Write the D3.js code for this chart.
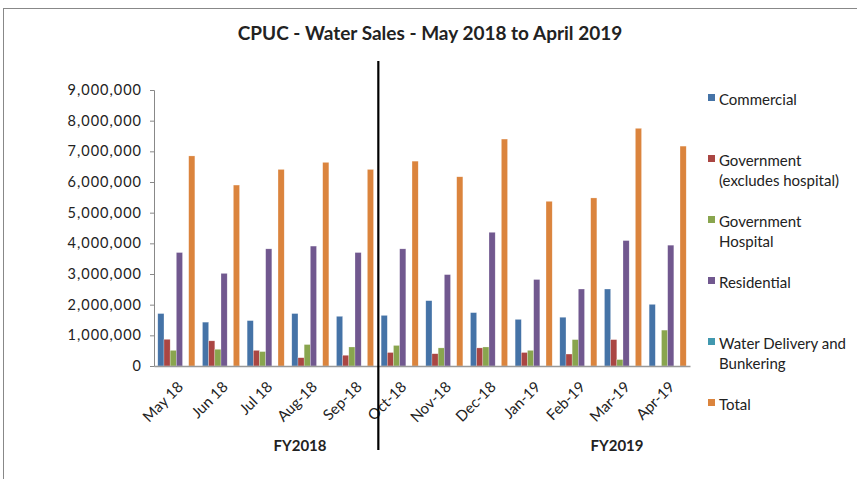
<!DOCTYPE html>
<html>
<head>
<meta charset="utf-8">
<script src="https://cdn.jsdelivr.net/npm/d3@7"></script>
<style>
  body { margin: 0; background: #fff; }
  text { font-family: Lato, "Open Sans", sans-serif; fill: #222; }
</style>
</head>
<body>
<div id="chart"></div>
<script>
// data
const months = ["May 18", "Jun 18", "Jul 18", "Aug-18", "Sep-18", "Oct-18",
    "Nov-18", "Dec-18", "Jan-19", "Feb-19", "Mar-19", "Apr-19"];

const commercial   = [1710000, 1430000, 1480000, 1710000, 1620000, 1650000, 2130000, 1740000, 1520000, 1590000, 2510000, 2010000];
const government   = [870000, 820000, 510000, 270000, 350000, 440000, 400000, 590000, 440000, 390000, 860000, 0];
const govHospital  = [510000, 545000, 470000, 700000, 620000, 670000, 590000, 620000, 510000, 860000, 210000, 1170000];
const residential  = [3700000, 3020000, 3820000, 3910000, 3700000, 3820000, 2980000, 4360000, 2820000, 2510000, 4090000, 3940000];
const waterDelivery = [0, 0, 0, 0, 0, 0, 0, 0, 0, 0, 0, 0];
const total        = [6850000, 5900000, 6410000, 6640000, 6410000, 6680000, 6170000, 7400000, 5370000, 5480000, 7750000, 7170000];

const seriesNames = ["Commercial", "Government (excludes hospital)", "Government Hospital",
    "Residential", "Water Delivery and Bunkering", "Total"];
const legendLines = [["Commercial"], ["Government", "(excludes hospital)"], ["Government", "Hospital"],
    ["Residential"], ["Water Delivery and", "Bunkering"], ["Total"]];
const colors = ["#4573a7", "#aa4643", "#89a54e", "#71588f", "#4198af", "#db843d"];
const yTicks = [0, 1000000, 2000000, 3000000, 4000000, 5000000, 6000000, 7000000, 8000000, 9000000];
const fyLabels = ["FY2018", "FY2019"];

const seriesValues = [commercial, government, govHospital, residential, waterDelivery, total];

const width = 857, height = 479,
    margin = ({ top: 90, right: 167, bottom: 113, left: 154 });

const svg = d3.select("#chart")
    .append("svg")
    .attr("width", width)
    .attr("height", height);

// chart border
svg.append("rect")
    .attr("x", 3.5).attr("y", 8.5)
    .attr("width", width + 10).attr("height", height + 10)
    .attr("fill", "none")
    .attr("stroke", "#888");

svg.append("text")
    .attr("x", 430)
    .attr("y", 40)
    .attr("text-anchor", "middle")
    .attr("font-size", 19)
    .attr("font-weight", "bold")
    .text("CPUC - Water Sales - May 2018 to April 2019");

let x0 = d3.scaleBand()
    .domain(months)
    .range([margin.left, width - margin.right])
    .paddingInner(0.17)
    .paddingOuter(0.085);

let x1 = d3.scaleBand()
    .domain(d3.range(seriesNames.length))
    .range([0, x0.bandwidth()]);

let y = d3.scaleLinear()
    .domain([0, 9000000])
    .range([height - margin.bottom, margin.top]);

// bars
const groups = svg.append("g")
    .selectAll("g")
    .data(months)
    .join("g")
    .attr("transform", d => `translate(${x0(d)},0)`);

groups.selectAll("rect")
    .data((m, i) => seriesValues.map((s, k) => ({ k: k, v: s[i] })))
    .join("rect")
    .attr("x", d => x1(d.k))
    .attr("width", x1.bandwidth())
    .attr("y", d => y(d.v))
    .attr("height", d => y(0) - y(d.v))
    .attr("fill", d => colors[d.k])
    .attr("stroke", "#fff")
    .attr("stroke-opacity", 0.5)
    .attr("stroke-width", 0.5);

// y axis
const yAxis = svg.append("g")
    .attr("transform", `translate(${margin.left},0)`)
    .call(d3.axisLeft(y).tickValues(yTicks).tickFormat(d3.format(",")).tickSize(4).tickPadding(8));
yAxis.select(".domain").attr("stroke", "#888");
yAxis.selectAll(".tick line").attr("stroke", "#888");
yAxis.selectAll("text")
    .attr("font-size", 14.5)
    .attr("letter-spacing", 1)
    .attr("fill", "#222");

// x axis
const xAxis = svg.append("g")
    .attr("transform", `translate(0,${y(0)})`)
    .call(d3.axisBottom(x0).tickSize(0).tickSizeOuter(0));
xAxis.select(".domain").attr("stroke", "#999").attr("stroke-width", 1.5);
xAxis.selectAll("text")
    .attr("font-size", 15)
    .attr("fill", "#222")
    .attr("text-anchor", "end")
    .attr("transform", "translate(2,16) rotate(-45)")
    .attr("dy", "0.35em");

// fiscal year divider
const divX = (x0("Sep-18") + x0.bandwidth() + x0("Oct-18")) / 2 + 1;
svg.append("line")
    .attr("x1", divX).attr("x2", divX)
    .attr("y1", 61).attr("y2", 450)
    .attr("stroke", "#000")
    .attr("stroke-width", 2.2);

svg.selectAll(".fy")
    .data(fyLabels)
    .join("text")
    .attr("class", "fy")
    .attr("x", (d, i) => i === 0 ? 300 : 617)
    .attr("y", 451)
    .attr("text-anchor", "middle")
    .attr("font-size", 15)
    .attr("font-weight", "bold")
    .text(d => d);

// legend
const legend = svg.append("g")
    .selectAll("g")
    .data(seriesNames)
    .join("g")
    .attr("transform", (d, i) => `translate(708,${105 + i * 61})`);

legend.append("rect")
    .attr("x", 0).attr("y", -11)
    .attr("width", 7).attr("height", 7)
    .attr("fill", (d, i) => colors[i]);

legend.append("text")
    .attr("x", 11)
    .attr("font-size", 15)
    .selectAll("tspan")
    .data((d, i) => legendLines[i])
    .join("tspan")
    .attr("x", 11)
    .attr("y", (d, j) => j * 20)
    .text(d => d);
</script>
</body>
</html>
